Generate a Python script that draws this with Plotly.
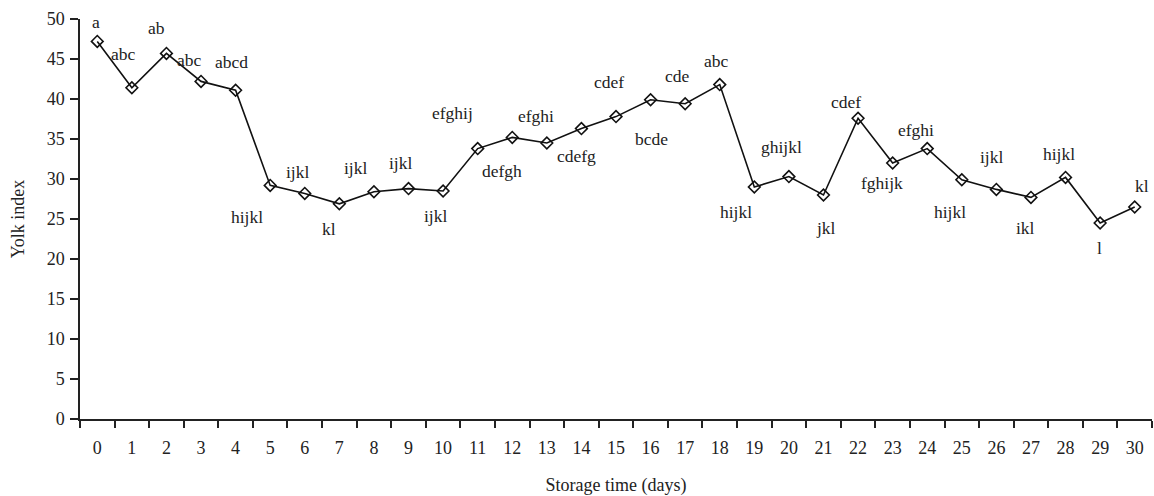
import plotly.graph_objects as go

# Storage days and measured yolk index
days = [str(d) for d in range(31)]
yolk_index = [47.2, 41.4, 45.7, 42.2, 41.1, 29.2, 28.2, 26.9, 28.4, 28.8,
              28.5, 33.8, 35.2, 34.5, 36.3, 37.8, 39.9, 39.4, 41.8, 29.0,
              30.3, 28.0, 37.6, 32.0, 33.8, 29.9, 28.7, 27.7, 30.2, 24.5, 26.5]
# Significance letters for each day
letters = ["a", "abc", "ab", "abc", "abcd", "hijkl", "ijkl", "kl", "ijkl", "ijkl",
           "ijkl", "efghij", "defgh", "efghi", "cdefg", "cdef", "bcde", "cde", "abc", "hijkl",
           "ghijkl", "jkl", "cdef", "fghijk", "efghi", "hijkl", "ijkl", "ikl", "hijkl", "l", "kl"]

# Pixel offsets (dx, dy) of each letter label relative to its marker (dy positive = up)
label_offsets = [(-1, 19), (-8, 34), (-10, 25), (-12, 21), (-4, 28), (-23, -32), (-7, 21),
                 (-10, -25), (-18, 24), (-8, 26), (-8, -25), (-25, 36), (-10, -34), (-11, 27),
                 (-5, -27), (-7, 35), (1, -39), (-8, 28), (-3, 24), (-18, -25), (-7, 30),
                 (3, -33), (-12, 16), (-11, -20), (-11, 19), (-12, -32), (-5, 32), (-5, -31),
                 (-7, 23), (-1, -25), (7, 21)]

FONT = "'Liberation Serif', 'DejaVu Serif', 'Times New Roman', serif"
INK = "#222222"

fig = go.Figure()
fig.add_trace(go.Scatter(
    x=days, y=yolk_index, mode="lines+markers",
    line=dict(color="#111111", width=1.6),
    marker=dict(symbol="diamond-open", size=9, color="#111111",
                line=dict(width=1.6, color="#111111")),
    showlegend=False,
))

for d, v, txt, (dx, dy) in zip(days, yolk_index, letters, label_offsets):
    fig.add_annotation(x=d, y=v, text=txt, showarrow=False,
                       xshift=dx, yshift=dy,
                       font=dict(family=FONT, size=17.5, color=INK))

fig.update_layout(
    width=1154, height=496,
    margin=dict(l=80, r=2, t=19, b=77),
    plot_bgcolor="white", paper_bgcolor="white",
    font=dict(family=FONT, size=18, color=INK),
)
fig.update_xaxes(
    type="category", tickson="boundaries", range=[-0.5, 30.5],
    showline=True, linecolor="#222222", linewidth=1.5,
    ticks="outside", ticklen=7, tickwidth=1.5, tickcolor="#222222",
    showgrid=False, zeroline=False, ticklabelstandoff=12,
    tickfont=dict(family=FONT, size=18, color=INK),
    title=dict(text="Storage time (days)", font=dict(family=FONT, size=18, color=INK),
               standoff=21),
)
fig.update_yaxes(
    range=[0, 50], dtick=5, tick0=0,
    showline=True, linecolor="#222222", linewidth=1.5,
    ticks="outside", ticklen=8, tickwidth=1.5, tickcolor="#222222",
    showgrid=False, zeroline=False, ticklabelstandoff=2,
    tickfont=dict(family=FONT, size=18, color=INK),
    title=dict(text="Yolk index", font=dict(family=FONT, size=18, color=INK),
               standoff=17),
)

fig.write_html("out.html")
